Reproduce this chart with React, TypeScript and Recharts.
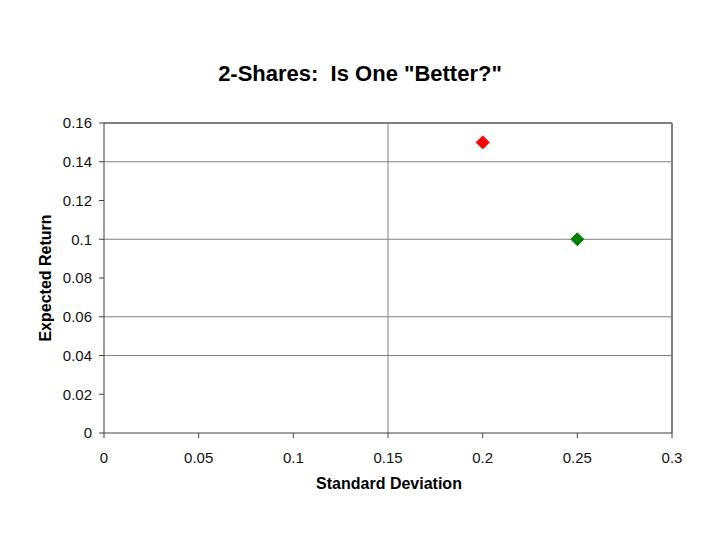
import React from "react";
import { ScatterChart, Scatter, XAxis, YAxis, CartesianGrid, ReferenceLine } from "recharts";

const shareA = [{ sd: 0.2, ret: 0.15 }];
const shareB = [{ sd: 0.25, ret: 0.1 }];
const xTicks = [0, 0.05, 0.1, 0.15, 0.2, 0.25, 0.3];
const yTicks = [0, 0.02, 0.04, 0.06, 0.08, 0.1, 0.12, 0.14, 0.16];
const gridY = [0.04, 0.06, 0.1, 0.14];
const gridX = [0.15];

const FONT = "'Liberation Sans', Arial, sans-serif";

const Diamond = (color: string) => (props: any) => {
  const { cx, cy } = props;
  const r = 6.5;
  return (
    <polygon
      points={`${cx},${cy - r} ${cx + r},${cy} ${cx},${cy + r} ${cx - r},${cy}`}
      fill={color}
      stroke={color}
      strokeWidth={1}
    />
  );
};

export default function App() {
  return (
    <div style={{ position: "absolute", left: 0, top: 0, width: 720, height: 540, background: "#fff", fontFamily: FONT }}>
      <div
        style={{
          position: "absolute",
          left: 0,
          top: 61,
          width: 720,
          textAlign: "center",
          fontSize: 22,
          lineHeight: "26px",
          fontWeight: "bold",
          whiteSpace: "pre",
          color: "#000",
        }}
      >
        {'2-Shares:  Is One "Better?"'}
      </div>
      <ScatterChart width={720} height={540} margin={{ top: 123, right: 48, bottom: 47, left: 44 }}>
        <CartesianGrid
          stroke="#808080"
          strokeWidth={1}
          horizontalValues={gridY}
          verticalValues={gridX}
        />
        <ReferenceLine y={0.16} stroke="#808080" strokeWidth={2} ifOverflow="extendDomain" />
        <ReferenceLine x={0.3} stroke="#808080" strokeWidth={2} ifOverflow="extendDomain" />
        <XAxis
          type="number"
          dataKey="sd"
          domain={[0, 0.3]}
          ticks={xTicks}
          interval={0}
          height={60}
          tickSize={5}
          tickMargin={14}
          stroke="#404040"
          tick={{ fill: "#111", fontSize: 15, fontFamily: FONT }}
          label={(p: any) => (
            <text x={389} y={489} textAnchor="middle" fontSize={16} fontWeight="bold" fontFamily={FONT} fill="#000">
              Standard Deviation
            </text>
          )}
        />
        <YAxis
          type="number"
          dataKey="ret"
          domain={[0, 0.16]}
          ticks={yTicks}
          interval={0}
          width={60}
          tickSize={5}
          tickMargin={7}
          stroke="#404040"
          tick={{ fill: "#111", fontSize: 15, fontFamily: FONT }}
          label={(p: any) => (
            <text
              x={51}
              y={278}
              textAnchor="middle"
              transform="rotate(-90, 51, 278)"
              fontSize={16}
              fontWeight="bold"
              fontFamily={FONT}
              fill="#000"
            >
              Expected Return
            </text>
          )}
        />
        <Scatter data={shareA} isAnimationActive={false} shape={Diamond("#FF0000")} />
        <Scatter data={shareB} isAnimationActive={false} shape={Diamond("#008000")} />
      </ScatterChart>
    </div>
  );
}
